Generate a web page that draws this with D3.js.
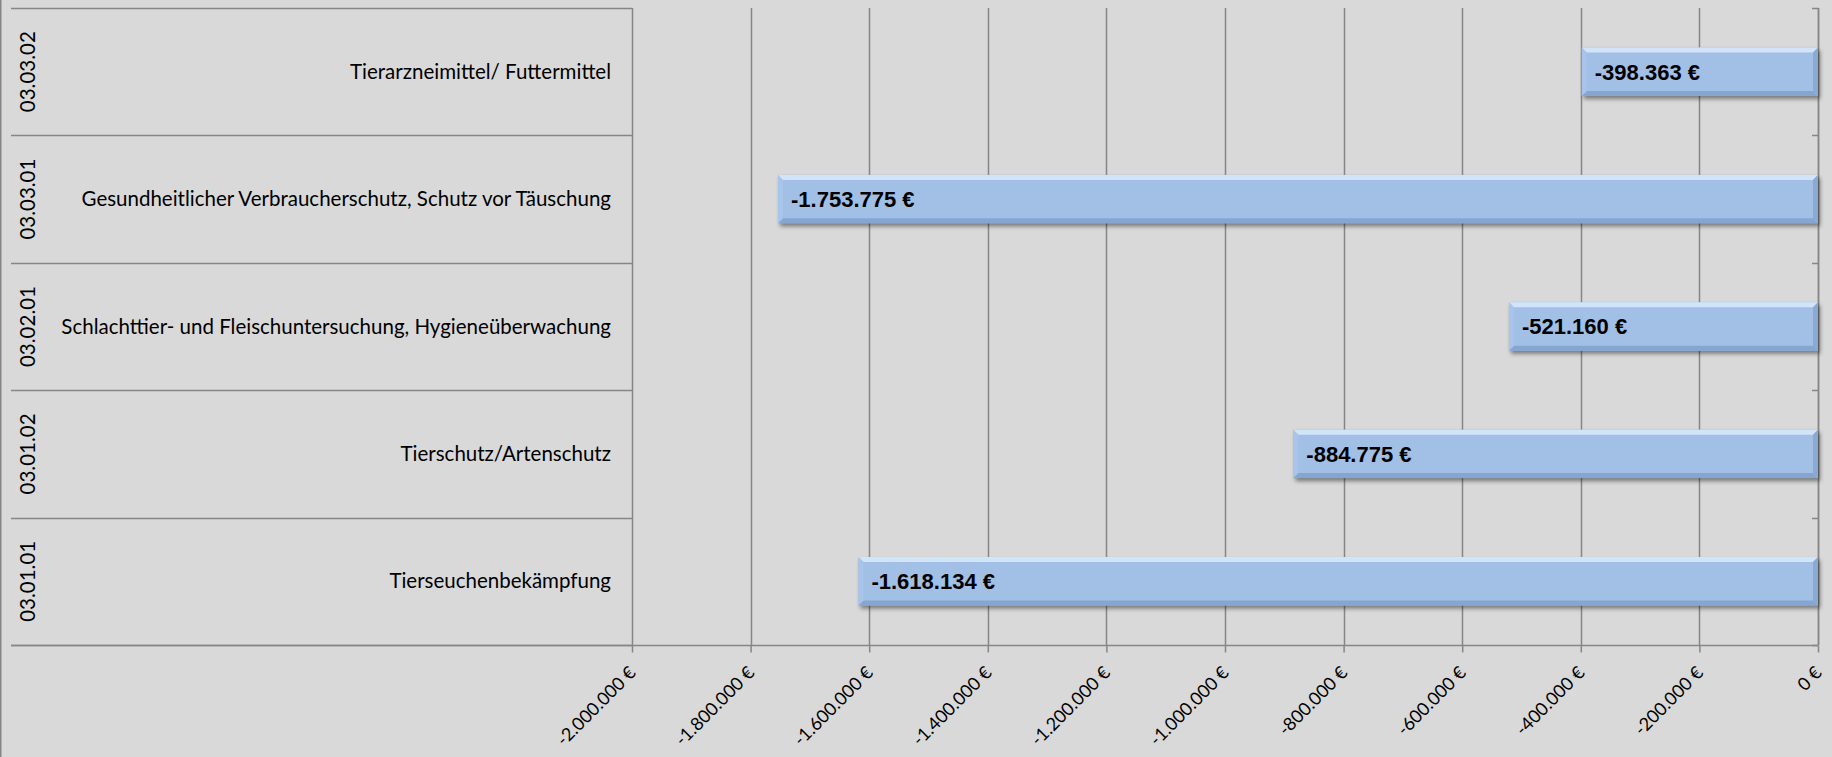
<!DOCTYPE html>
<html><head><meta charset="utf-8">
<script src="https://cdn.jsdelivr.net/npm/d3@7"></script>
<style>
html,body{margin:0;padding:0;background:#D9D9D9;}
svg{display:block;}
</style></head>
<body>
<svg id="chart" width="1832" height="757"></svg>
<script>
// ---- data ----
const codes = ["03.03.02","03.03.01","03.02.01","03.01.02","03.01.01"];
const names = ["Tierarzneimittel/ Futtermittel",
  "Gesundheitlicher Verbraucherschutz, Schutz vor Täuschung",
  "Schlachttier- und Fleischuntersuchung, Hygieneüberwachung",
  "Tierschutz/Artenschutz",
  "Tierseuchenbekämpfung"];
const values = [-398363, -1753775, -521160, -884775, -1618134];
const tickValues = [-2000000,-1800000,-1600000,-1400000,-1200000,-1000000,-800000,-600000,-400000,-200000,0];

// ---- layout ----
const W = 1832, H = 757;
const plot = {left:632, right:1818, top:8, bottom:645};
const labelLeft = 11;
const gridColor = "#868686";
const svg = d3.select("#chart");

const fmtNum = v => {
  const s = Math.abs(Math.round(v)).toString().replace(/\B(?=(\d{3})+(?!\d))/g, ".");
  return (v < 0 ? "-" : "") + s + " €";
};

const x = d3.scaleLinear().domain([-2000000, 0]).range([plot.left, plot.right]);
const rows = d3.scaleBand().domain(codes).range([plot.top, plot.bottom]).paddingInner(0).paddingOuter(0);
const y = d3.scaleBand().domain(codes).range([plot.top, plot.bottom]).paddingInner(0.62).paddingOuter(0.31);

// outer border left
svg.append("line").attr("x1",0.75).attr("x2",0.75).attr("y1",0).attr("y2",H)
  .attr("stroke",gridColor).attr("stroke-width",1.5);

// defs
const defs = svg.append("defs");
const f = defs.append("filter").attr("id","shadow").attr("x","-10%").attr("y","-30%").attr("width","120%").attr("height","160%");
f.append("feGaussianBlur").attr("stdDeviation",2.2);

// vertical gridlines
svg.append("g").selectAll("line").data(tickValues).join("line")
  .attr("x1",d=>Math.round(x(d))+0.5).attr("x2",d=>Math.round(x(d))+0.5)
  .attr("y1",plot.top).attr("y2",plot.bottom)
  .attr("stroke",gridColor).attr("stroke-width",1.5);

// category label table: horizontal separators
const bounds = codes.map(c => rows(c)).concat([plot.bottom]);
svg.append("g").selectAll("line").data(bounds).join("line")
  .attr("x1",labelLeft).attr("x2",plot.left)
  .attr("y1",d=>Math.round(d)+0.5).attr("y2",d=>Math.round(d)+0.5)
  .attr("stroke",gridColor).attr("stroke-width",1.5);

// value axis (bottom)
const xAxis = d3.axisBottom(x).tickValues(tickValues).tickSize(7).tickSizeOuter(0).tickFormat(fmtNum);
const gx = svg.append("g").attr("transform",`translate(0,${plot.bottom+0.5})`).call(xAxis);
gx.select(".domain").attr("stroke",gridColor).attr("stroke-width",1.5)
  .attr("d",`M${labelLeft},0H${plot.right}`);
gx.selectAll(".tick line").attr("stroke",gridColor).attr("stroke-width",1.5);
gx.selectAll(".tick text")
  .attr("font-family","Lato, 'Open Sans', sans-serif").attr("font-size",18).attr("fill","#000")
  .attr("text-anchor","end").attr("y",0).attr("dy","0.35em")
  .attr("transform","translate(0,24) rotate(-45)");

// category axis at right (value 0) with inner ticks
svg.append("line").attr("x1",plot.right+0.5).attr("x2",plot.right+0.5).attr("y1",plot.top).attr("y2",plot.bottom)
  .attr("stroke",gridColor).attr("stroke-width",1.5);
svg.append("g").selectAll("line").data(bounds).join("line")
  .attr("x1",plot.right-6).attr("x2",plot.right+0.5)
  .attr("y1",d=>Math.round(d)+0.5).attr("y2",d=>Math.round(d)+0.5)
  .attr("stroke",gridColor).attr("stroke-width",1.5);

// bars
const bars = svg.append("g").selectAll("g").data(codes.map((c,i)=>({code:c, v:values[i]}))).join("g");
const bv = 5;
bars.append("rect").attr("x",d=>x(d.v)+2).attr("y",d=>y(d.code)+3)
  .attr("width",d=>x(0)-x(d.v)).attr("height",y.bandwidth())
  .attr("fill","rgba(0,0,0,0.45)").attr("filter","url(#shadow)");
bars.append("rect").attr("x",d=>x(d.v)).attr("y",d=>y(d.code))
  .attr("width",d=>x(0)-x(d.v)).attr("height",y.bandwidth()).attr("fill","#A2BFE6");
// bevel top
bars.append("path").attr("d",d=>{const x0=x(d.v),x1=x(0),y0=y(d.code);
  return `M${x0},${y0}H${x1}L${x1-bv},${y0+bv}H${x0+bv}Z`;}).attr("fill","#D2E4F9");
// bevel bottom
bars.append("path").attr("d",d=>{const x0=x(d.v),x1=x(0),y1=y(d.code)+y.bandwidth();
  return `M${x0},${y1}H${x1}L${x1-bv},${y1-bv}H${x0+bv}Z`;}).attr("fill","#86A6D2");
// bevel left
bars.append("path").attr("d",d=>{const x0=x(d.v),y0=y(d.code),y1=y0+y.bandwidth();
  return `M${x0},${y0}L${x0+bv},${y0+bv}V${y1-bv}L${x0},${y1}Z`;}).attr("fill","#A8C4EA");
// bevel right
bars.append("path").attr("d",d=>{const x1=x(0),y0=y(d.code),y1=y0+y.bandwidth();
  return `M${x1},${y0}L${x1-bv},${y0+bv}V${y1-bv}L${x1},${y1}Z`;}).attr("fill","#8AA9D3");
// value labels
bars.append("text").attr("x",d=>x(d.v)+13).attr("y",d=>y(d.code)+y.bandwidth()/2)
  .attr("dy","0.36em").attr("font-family","'Liberation Sans', Arial, sans-serif")
  .attr("font-weight","bold").attr("font-size",22).attr("fill","#000")
  .text(d=>fmtNum(d.v));

// category names
svg.append("g").selectAll("text").data(codes.map((c,i)=>({code:c,name:names[i]}))).join("text")
  .attr("x",611).attr("y",d=>rows(d.code)+rows.bandwidth()/2).attr("dy","0.35em")
  .attr("text-anchor","end").attr("font-family","Lato, 'Open Sans', sans-serif")
  .attr("font-size",20.5).attr("fill","#000").text(d=>d.name);

// codes rotated
svg.append("g").selectAll("text").data(codes).join("text")
  .attr("transform",d=>`translate(28,${rows(d)+rows.bandwidth()/2}) rotate(-90)`)
  .attr("text-anchor","middle").attr("dy","0.35em")
  .attr("font-family","Lato, 'Open Sans', sans-serif").attr("font-size",20.5).attr("fill","#000")
  .text(d=>d);
</script>
</body></html>
